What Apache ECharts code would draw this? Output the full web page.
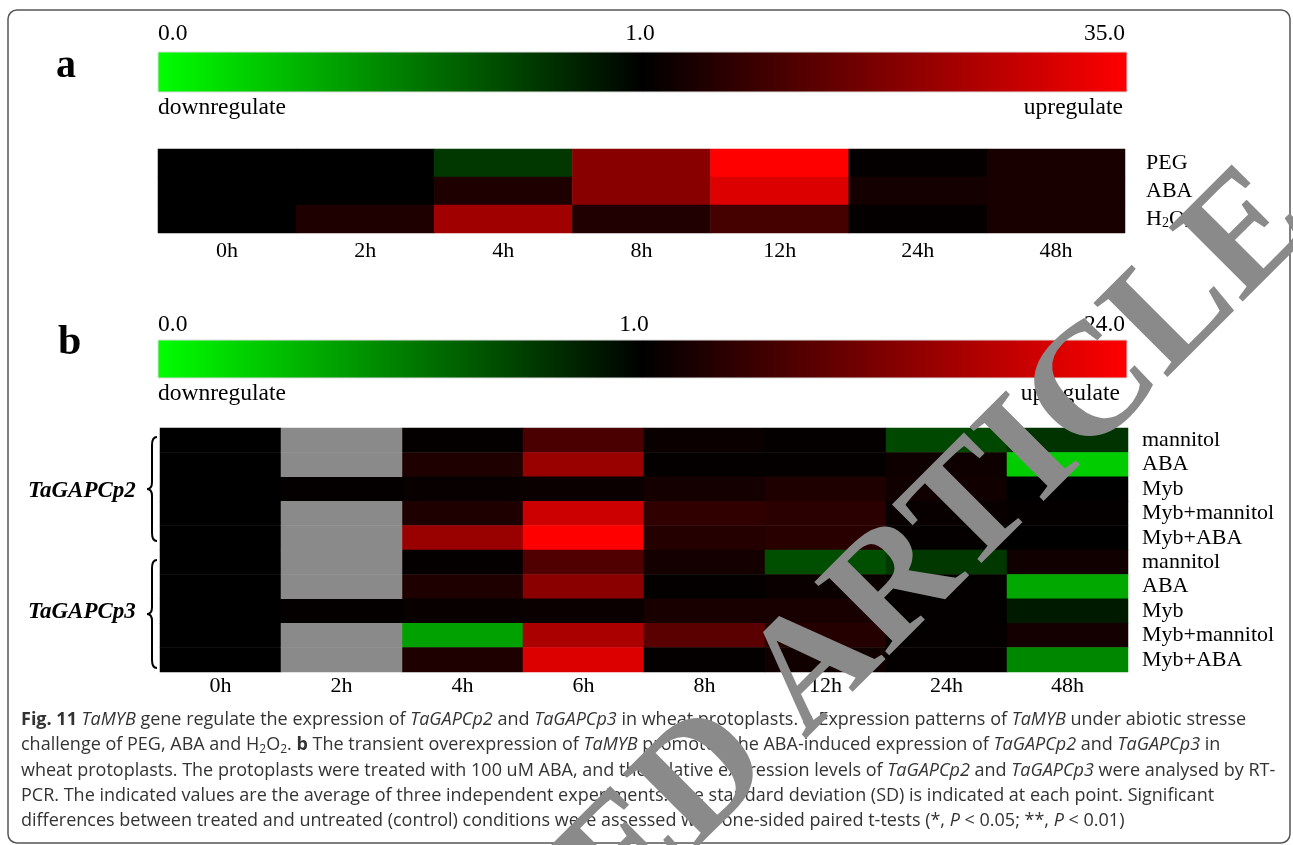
<!DOCTYPE html>
<html><head><meta charset="utf-8">
<script src="https://cdn.jsdelivr.net/npm/echarts@6/dist/echarts.min.js"></script>
<style>html,body{margin:0;padding:0;background:#fff}#c{width:1293px;height:845px}</style>
</head><body><div id="c"></div>
<script>
// ---------- Panel a ----------
const timesA = ['0h','2h','4h','8h','12h','24h','48h'];
const treatA = ['PEG','ABA','H2O2'];
const maxA = 35.0;
const pegA  = [1, 1, 0.78, 6.8, 35, 1.07, 1.40];
const abaA  = [1, 1, 1.52, 6.8, 21.5, 1.34, 1.40];
const h2o2A = [1, 1.52, 9.3, 1.56, 2.62, 1.07, 1.40];

// ---------- Panel b ----------
const timesB = ['0h','2h','4h','6h','8h','12h','24h','48h'];
const treatB = ['mannitol','ABA','Myb','Myb+mannitol','Myb+ABA','mannitol','ABA','Myb','Myb+mannitol','Myb+ABA'];
const maxB = 24.0;
// null = not measured (grey cell)
const p2Mannitol    = [1, null, 1.06, 2.51, 1.13, 1.06, 0.72, 0.80];
const p2ABA         = [1, null, 1.45, 6.73, 1.06, 1.06, 1.21, 0.20];
const p2Myb         = [1, 1.05, 1.10, 1.13, 1.30, 1.45, 1.22, 1.00];
const p2MybMannitol = [1, null, 1.45, 12.7, 1.82, 1.69, 1.10, 1.06];
const p2MybABA      = [1, null, 6.73, 24.0, 1.59, 1.65, 1.06, 1.00];
const p3Mannitol    = [1, null, 1.06, 2.71, 1.30, 0.69, 0.78, 1.22];
const p3ABA         = [1, null, 1.45, 5.58, 1.06, 1.13, 1.06, 0.34];
const p3Myb         = [1, 1.05, 1.10, 1.13, 1.35, 1.35, 1.06, 0.90];
const p3MybMannitol = [1, null, 0.37, 8.32, 3.07, 1.59, 1.06, 1.30];
const p3MybABA      = [1, null, 1.45, 15.5, 1.06, 1.22, 1.06, 0.47];

// colour position on the legend bar: 0 -> -1 (green), 1 -> 0 (black), max -> 1 (red)
function score(v, max){ return v <= 1 ? v - 1 : Math.log(v) / Math.log(max); }

const rowsA = [pegA, abaA, h2o2A];
const dataA = [];
rowsA.forEach((row, r) => row.forEach((v, c) => dataA.push([c, r, score(v, maxA)])));

const rowsB = [p2Mannitol, p2ABA, p2Myb, p2MybMannitol, p2MybABA, p3Mannitol, p3ABA, p3Myb, p3MybMannitol, p3MybABA];
const dataB = [], greyB = [];
rowsB.forEach((row, r) => row.forEach((v, c) => {
  if (v === null) greyB.push([c, r, 0]); else dataB.push([c, r, score(v, maxB)]);
}));

const SERIF = '"Liberation Serif", "Times New Roman", serif';
const SANS = '"Open Sans", sans-serif';
const gradColors = [{offset:0,color:'#00ff00'},{offset:0.5,color:'#000000'},{offset:1,color:'#ff0000'}];

const chart = echarts.init(document.getElementById('c'), null, {renderer:'canvas'});

const CS = 18;
const capRich = {
  b:{fontWeight:'bold', fontSize:CS, fontFamily:SANS, color:'#111'},
  i:{fontStyle:'italic', fontSize:CS, fontFamily:SANS, color:'#333'},
  sub:{fontSize:12, fontFamily:SANS, color:'#333', verticalAlign:'bottom', padding:[8,0,0,0]}
};
const capLines = [
  '{b|Fig. 11} {i|TaMYB} gene regulate the expression of {i|TaGAPCp2} and {i|TaGAPCp3} in wheat protoplasts. {b|a} Expression patterns of {i|TaMYB} under abiotic stresse',
  'challenge of PEG, ABA and H{sub|2}O{sub|2}. {b|b} The transient overexpression of {i|TaMYB} promoted the ABA-induced expression of {i|TaGAPCp2} and {i|TaGAPCp3} in',
  'wheat protoplasts. The protoplasts were treated with 100 uM ABA, and the relative expression levels of {i|TaGAPCp2} and {i|TaGAPCp3} were analysed by RT-',
  'PCR. The indicated values are the average of three independent experiments. The standard deviation (SD) is indicated at each point. Significant',
  'differences between treated and untreated (control) conditions were assessed with one-sided paired t-tests (*, {i|P} < 0.05; **, {i|P} < 0.01)'
];

function txt(x, y, text, size, opts){
  return {type:'text', x:x, y:y, style:Object.assign({text:text, fontSize:size, fontFamily:SERIF, fill:'#000', verticalAlign:'middle', align:'left'}, opts||{})};
}
function brace(x, y0, y1){
  const ym = (y0 + y1) / 2, xl = x - 10, xm = x - 5;
  const st = {stroke:'#000', lineWidth:2, fill:'none'};
  return [
    {type:'bezierCurve', shape:{x1:x, y1:y0, x2:xm, y2:y0+8, cpx1:xm, cpy1:y0}, style:st},
    {type:'line', shape:{x1:xm, y1:y0+8, x2:xm, y2:ym-7}, style:st},
    {type:'bezierCurve', shape:{x1:xm, y1:ym-7, x2:xl, y2:ym, cpx1:xm, cpy1:ym}, style:st},
    {type:'bezierCurve', shape:{x1:xl, y1:ym, x2:xm, y2:ym+7, cpx1:xm, cpy1:ym}, style:st},
    {type:'line', shape:{x1:xm, y1:ym+7, x2:xm, y2:y1-8}, style:st},
    {type:'bezierCurve', shape:{x1:xm, y1:y1-8, x2:x, y2:y1, cpx1:xm, cpy1:y1}, style:st}
  ];
}

const LS = 23.5;
const graphics = [
  {type:'rect', shape:{x:8, y:10, width:1282, height:833, r:9}, style:{fill:'none', stroke:'#555', lineWidth:1.5}},
  // colour bar a
  {type:'rect', shape:{x:158, y:52, width:969, height:40}, style:{fill:{type:'linear',x:0,y:0,x2:1,y2:0,colorStops:gradColors}, stroke:'#ddd', lineWidth:1}},
  txt(158, 34, '0.0', LS),
  txt(640, 34, '1.0', LS, {align:'center'}),
  txt(1125, 34, '35.0', LS, {align:'right'}),
  txt(158, 108, 'downregulate', LS),
  txt(1123, 108, 'upregulate', LS, {align:'right'}),
  txt(56, 67, 'a', 40, {fontWeight:'bold'}),
  // colour bar b
  {type:'rect', shape:{x:158, y:340, width:969, height:38}, style:{fill:{type:'linear',x:0,y:0,x2:1,y2:0,colorStops:gradColors}, stroke:'#ddd', lineWidth:1}},
  txt(158, 325, '0.0', LS),
  txt(634, 325, '1.0', LS, {align:'center'}),
  txt(1125, 325, '24.0', LS, {align:'right'}),
  txt(158, 394, 'downregulate', LS),
  txt(1120, 394, 'upregulate', LS, {align:'right'}),
  txt(58, 343, 'b', 42, {fontWeight:'bold'}),
  // gene labels with braces
  txt(28, 491, 'TaGAPCp2', 23, {fontWeight:'bold', fontStyle:'italic'}),
  txt(28, 612, 'TaGAPCp3', 23, {fontWeight:'bold', fontStyle:'italic'})
].concat(brace(157, 437, 541), brace(157, 560, 668));

capLines.forEach((t, i) => {
  graphics.push({type:'text', x:21, y:720 + i*25.2, style:{text:t, fontSize:CS, fontFamily:SANS, fill:'#333', verticalAlign:'middle', rich:capRich}});
});
graphics.push({type:'text', x:662, y:824, rotation:Math.PI/4, z:100,
  style:{text:'RETRACTED ARTICLE', fontSize:160, fontWeight:'bold', fontFamily:SERIF, fill:'#8a8a8a', align:'center', verticalAlign:'middle'}});

const axisLabelBase = {color:'#000', fontFamily:SERIF, fontSize:22, interval:0};

chart.setOption({
  animation:false,
  backgroundColor:'#fff',
  grid:[
    {left:158, top:149, width:967, height:84},
    {left:160, top:428, width:968, height:244}
  ],
  xAxis:[
    {type:'category', gridIndex:0, data:timesA, axisLine:{show:false}, axisTick:{show:false}, splitLine:{show:false},
     axisLabel:Object.assign({margin:7}, axisLabelBase)},
    {type:'category', gridIndex:1, data:timesB, axisLine:{show:false}, axisTick:{show:false}, splitLine:{show:false},
     axisLabel:Object.assign({margin:3}, axisLabelBase)}
  ],
  yAxis:[
    {type:'category', gridIndex:0, data:treatA, inverse:true, position:'right', axisLine:{show:false}, axisTick:{show:false}, splitLine:{show:false},
     axisLabel:Object.assign({margin:21, formatter:(v)=> v === 'H2O2' ? 'H{s|2}O{s|2}' : v,
       rich:{s:{fontSize:14, fontFamily:SERIF, color:'#000', verticalAlign:'bottom', padding:[8,0,0,0]}}}, axisLabelBase)},
    {type:'category', gridIndex:1, data:treatB, inverse:true, position:'right', axisLine:{show:false}, axisTick:{show:false}, splitLine:{show:false},
     axisLabel:Object.assign({margin:14}, axisLabelBase)}
  ],
  visualMap:[
    {type:'continuous', show:false, seriesIndex:0, min:-1, max:1, inRange:{color:['#00ff00','#000000','#ff0000']}},
    {type:'continuous', show:false, seriesIndex:1, min:-1, max:1, inRange:{color:['#00ff00','#000000','#ff0000']}}
  ],
  series:[
    {type:'heatmap', xAxisIndex:0, yAxisIndex:0, data:dataA, itemStyle:{borderWidth:0}},
    {type:'heatmap', xAxisIndex:1, yAxisIndex:1, data:dataB, itemStyle:{borderWidth:0}},
    {type:'heatmap', xAxisIndex:1, yAxisIndex:1, data:greyB, itemStyle:{color:'#8a8a8a', borderColor:'#8a8a8a', borderWidth:0}}
  ],
  graphic:{elements:graphics}
});
</script></body></html>
